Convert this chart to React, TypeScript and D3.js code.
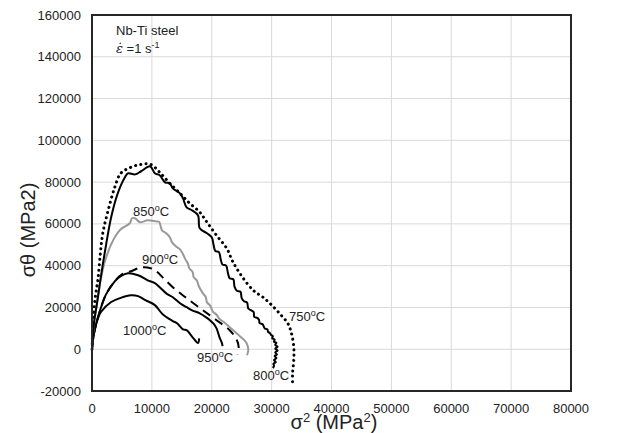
import React from "react";
import * as d3 from "d3";

type P = [number, number];

const xTicks = [0, 10000, 20000, 30000, 40000, 50000, 60000, 70000, 80000];
const yTicks = [-20000, 0, 20000, 40000, 60000, 80000, 100000, 120000, 140000, 160000];

const s750: P[] = [[0,0],[100,8000],[300,18000],[600,26000],[1000,33600],[1400,46000],[1800,55500],[2700,66500],[3800,77500],[4800,84200],[6500,87100],[8200,88500],[9800,88500],[11300,84700],[13000,79400],[14700,74600],[16300,69900],[18000,65600],[19200,60800],[20800,54500],[22500,48300],[23500,42000],[25000,35000],[27000,28000],[28500,25000],[29700,22000],[31300,17200],[32700,12400],[33300,7700],[33700,1000],[33700,-5300],[33500,-11500],[33500,-17200]];

const s800: P[] = [[0,0],[150,6000],[400,14000],[700,19500],[1000,25000],[1500,35000],[2200,47400],[3200,63200],[4300,74600],[5500,82300],[6000,84200],[7200,83700],[8200,85200],[9700,87600],[10500,84200],[11300,83300],[12200,79900],[13000,79400],[13500,77000],[14700,74600],[15200,72200],[15800,67900],[16700,66500],[17700,64100],[18000,57900],[19200,55500],[20000,53600],[20300,50000],[20600,47000],[21200,46500],[21500,43000],[21800,40500],[22400,40000],[22700,36500],[23000,34000],[23600,33500],[23800,30000],[24200,28000],[24800,27500],[25000,24500],[25400,23000],[25900,22300],[26100,19500],[26600,18600],[27000,17800],[27100,15500],[27600,15000],[27900,14000],[28000,12500],[28500,12000],[28700,10800],[28900,9800],[29300,9500],[29400,8300],[29700,7800],[29900,6800],[30200,6300],[30100,5200],[30500,4700],[30400,3600],[30800,3100],[30600,2000],[31000,1200],[30600,300],[31000,-600],[30600,-1500],[30900,-2500],[30500,-3300],[30800,-4300],[30400,-5200],[30700,-6200],[30300,-7000],[30400,-8000],[30200,-9000]];

const s850: P[] = [[0,0],[150,6000],[400,13500],[700,20000],[1000,26000],[1500,34000],[2200,42500],[3500,52000],[4800,57400],[6300,60300],[6700,62700],[7200,62700],[8000,60800],[9300,61700],[10700,61200],[11200,61000],[11700,56900],[12400,55500],[13000,53600],[13400,51000],[14200,48800],[14700,47800],[15200,45500],[15600,43000],[16000,41100],[16300,38500],[16800,37000],[17000,34400],[17500,33000],[17800,30500],[18200,28200],[18600,26500],[19000,25000],[19200,22500],[19700,21000],[20200,18000],[20800,16500],[21300,14500],[22000,13000],[23000,10500],[23800,8500],[24700,6200],[25400,4500],[25800,3000],[26000,1500],[26100,-500],[25900,-2900]];

const s900: P[] = [[0,0],[200,5500],[600,11000],[1000,15300],[2300,26000],[3800,32500],[5000,35800],[6500,37300],[8200,39200],[9800,38800],[10800,37200],[11800,34400],[13500,29700],[15000,26200],[16300,23400],[18500,18700],[20800,13900],[23000,9100],[24200,4300],[24500,1000],[24300,-2500]];

const s950: P[] = [[0,0],[200,5500],[600,11000],[1000,15300],[2300,26000],[3800,32500],[4800,35000],[6000,36400],[7700,35400],[9300,33000],[10500,31600],[11300,29700],[12500,26500],[13500,24900],[14700,22000],[15800,20100],[16800,18500],[18000,17200],[19200,15000],[19700,13900],[20300,12200],[20800,10000],[21300,5700],[21700,2900],[21800,1500]];

const s1000: P[] = [[0,0],[150,4000],[500,10000],[1000,14800],[1500,17800],[3200,22600],[4800,24600],[6500,25800],[7700,25400],[9000,23400],[10500,21100],[11800,16800],[13500,13500],[14200,12400],[15200,9500],[15800,9100],[16800,5700],[17700,3000],[17900,5200]];

const labels = [
  { t: "850", x: 133, y: 216 },
  { t: "900", x: 142, y: 264 },
  { t: "1000", x: 123, y: 335 },
  { t: "950", x: 197, y: 362 },
  { t: "800", x: 253, y: 380 },
  { t: "750", x: 289, y: 321 },
];

const L = 92, R = 571, T = 15, B = 391;
const FONT = "'Liberation Sans', Arial, sans-serif";

export default function App() {
  const x = d3.scaleLinear().domain([0, 80000]).range([L, R]);
  const y = d3.scaleLinear().domain([-20000, 160000]).range([B, T]);
  const line = d3.line<P>().x(d => x(d[0])).y(d => y(d[1])).curve(d3.curveCatmullRom.alpha(0.5));

  const series = [
    { d: s1000, stroke: "#000", dash: undefined, w: 2 },
    { d: s950, stroke: "#000", dash: undefined, w: 2 },
    { d: s900, stroke: "#000", dash: "9 6", w: 2 },
    { d: s850, stroke: "#999", dash: undefined, w: 2 },
    { d: s800, stroke: "#000", dash: undefined, w: 2 },
    { d: s750, stroke: "#000", dash: "0.1 5.2", w: 3, cap: "round" },
  ];

  return (
    <svg width={619} height={433} style={{ position: "absolute", left: 0, top: 0, background: "#fff" }} fontFamily={FONT}>
      <rect x={0} y={0} width={619} height={433} fill="#fff" />
      {xTicks.map(t => (
        <line key={"gx" + t} x1={x(t)} x2={x(t)} y1={T} y2={B} stroke="#d9d9d9" strokeWidth={1} />
      ))}
      {yTicks.map(t => (
        <line key={"gy" + t} x1={L} x2={R} y1={y(t)} y2={y(t)} stroke="#d9d9d9" strokeWidth={1} />
      ))}
      {series.map((s, i) => (
        <path key={i} d={line(s.d) || ""} fill="none" stroke={s.stroke} strokeWidth={s.w}
          strokeDasharray={s.dash} strokeLinecap={(s as any).cap || "butt"} strokeLinejoin="round" />
      ))}
      <rect x={L} y={T} width={R - L} height={B - T} fill="none" stroke="#262626" strokeWidth={2} />
      {xTicks.map(t => (
        <text key={"tx" + t} x={x(t)} y={413} textAnchor="middle" fontSize={13} fill="#222">{t}</text>
      ))}
      {yTicks.map(t => (
        <text key={"ty" + t} x={81} y={y(t) + 4.5} textAnchor="end" fontSize={13} fill="#222">{t}</text>
      ))}
      <text x={334} y={429} textAnchor="middle" fontSize={20} fill="#222">
        σ<tspan dy={-7} fontSize={13}>2</tspan><tspan dy={7}> (MPa</tspan><tspan dy={-7} fontSize={13}>2</tspan><tspan dy={7}>)</tspan>
      </text>
      <text transform="translate(35,230) rotate(-90)" textAnchor="middle" fontSize={20} fill="#222">σθ (MPa2)</text>
      <text x={116} y={35} fontSize={13} fill="#222">Nb-Ti steel</text>
      <text x={116} y={53} fontSize={13} fill="#222">
        <tspan fontFamily="'DejaVu Serif', serif" fontStyle="italic">{"ε\u0307"}</tspan>
        <tspan>{"\u00a0=1 s"}</tspan><tspan dy={-5} fontSize={9}>-1</tspan>
      </text>
      {labels.map(l => (
        <text key={l.t} x={l.x} y={l.y} fontSize={13} fill="#222">
          {l.t}<tspan dy={-5} fontSize={9}>o</tspan><tspan dy={5}>C</tspan>
        </text>
      ))}
    </svg>
  );
}
